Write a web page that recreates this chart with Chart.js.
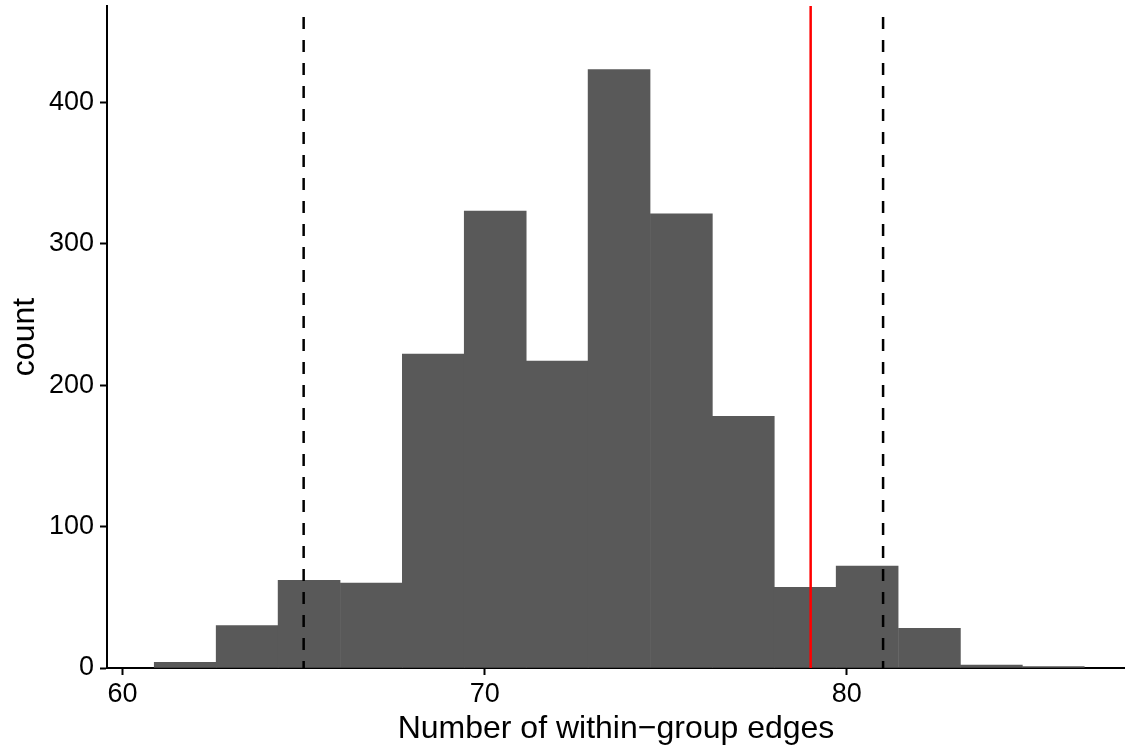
<!DOCTYPE html>
<html>
<head>
<meta charset="utf-8">
<script src="https://cdn.jsdelivr.net/npm/chart.js@4.4.1/dist/chart.umd.min.js"></script>
<style>
  html, body { margin: 0; padding: 0; background: #ffffff; }
  #wrap { width: 1125px; height: 750px; }
</style>
</head>
<body>
<div id="wrap"><canvas id="hist" width="1125" height="750"></canvas></div>
<script>
// Histogram of within-group edge counts
const binCenters = [61.73, 63.44, 65.15, 66.87, 68.58, 70.29, 72.00, 73.71, 75.43, 77.14, 78.85, 80.56, 82.28, 83.99, 85.70];
const binCounts  = [4, 30, 62, 60, 222, 323, 217, 423, 321, 178, 57, 72, 28, 2, 1];

// Reference lines: interval bounds (dashed) and observed value (red)
const intervalBounds = [65, 81];
const observedValue = 79;

const xTicks = [60, 70, 80];
const yTicks = [0, 100, 200, 300, 400];

const xRange = [59.57, 87.68];
const yRange = [0, 468];

const barData = binCenters.map((c, i) => ({ x: c, y: binCounts[i] }));

// Vertical rule spanning the full panel, drawn from the top down
function vline(x, color, dash) {
  return {
    type: 'line',
    data: [{ x: x, y: yRange[1] }, { x: x, y: yRange[0] }],
    borderColor: color,
    borderWidth: 2.5,
    borderDash: dash,
    borderDashOffset: dash.length ? 12 : 0,
    borderCapStyle: 'butt',
    pointRadius: 0,
    fill: false,
    order: 0
  };
}

const fontFamily = '"Liberation Sans", Arial, Helvetica, sans-serif';

new Chart(document.getElementById('hist'), {
  type: 'bar',
  data: {
    datasets: [
      {
        type: 'bar',
        data: barData,
        backgroundColor: '#595959',
        borderWidth: 0,
        barPercentage: 1.0,
        categoryPercentage: 1.0,
        grouped: false,
        order: 1
      },
      vline(intervalBounds[0], '#000000', [12, 11]),
      vline(intervalBounds[1], '#000000', [12, 11]),
      vline(observedValue, '#ff0000', [])
    ]
  },
  options: {
    responsive: false,
    animation: false,
    devicePixelRatio: 1,
    layout: { padding: { top: 6, right: 0, bottom: 0, left: 0 } },
    plugins: {
      legend: { display: false },
      tooltip: { enabled: false }
    },
    scales: {
      x: {
        type: 'linear',
        min: xRange[0],
        max: xRange[1],
        offset: false,
        afterBuildTicks: (s) => { s.ticks = xTicks.map(v => ({ value: v })); },
        afterFit: (s) => { s.height = 82; s.paddingLeft = 0; s.paddingRight = 0; },
        grid: {
          display: true,
          offset: false,
          drawOnChartArea: false,
          drawTicks: true,
          tickLength: 7,
          tickWidth: 2,
          tickColor: '#000000'
        },
        border: { display: true, color: '#000000', width: 2 },
        ticks: {
          color: '#000000',
          padding: 3,
          maxRotation: 0,
          font: { family: fontFamily, size: 27 }
        },
        title: {
          display: true,
          text: 'Number of within\u2212group edges',
          color: '#000000',
          font: { family: fontFamily, size: 32 },
          padding: { top: 0, bottom: 2 }
        }
      },
      y: {
        type: 'linear',
        min: yRange[0],
        max: yRange[1],
        afterBuildTicks: (s) => { s.ticks = yTicks.map(v => ({ value: v })); },
        afterFit: (s) => { s.width = 107; s.paddingTop = 0; s.paddingBottom = 0; },
        grid: {
          display: true,
          offset: false,
          drawOnChartArea: false,
          drawTicks: true,
          tickLength: 7,
          tickWidth: 2,
          tickColor: '#000000'
        },
        border: { display: true, color: '#000000', width: 2 },
        ticks: {
          color: '#000000',
          padding: 6,
          font: { family: fontFamily, size: 27 }
        },
        title: {
          display: true,
          text: 'count',
          color: '#000000',
          font: { family: fontFamily, size: 32 },
          padding: { top: 6, bottom: 0 }
        }
      }
    }
  }
});
</script>
</body>
</html>
